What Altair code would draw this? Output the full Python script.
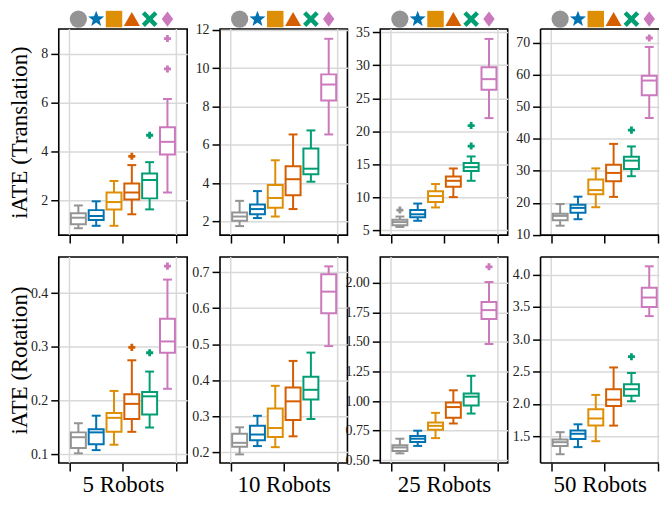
import math
import altair as alt
import pandas as pd

methods = ["M1", "M2", "M3", "M4", "M5", "M6"]
colors = ["#949494", "#0173B2", "#DE8F05", "#D55E00", "#029E73", "#CC78BC"]
robot_labels = ["5 Robots", "10 Robots", "25 Robots", "50 Robots"]
row_titles = ["iATE (Translation)", "iATE (Rotation)"]

# per method: (lower whisker, q1, median, q3, upper whisker)
trans_5 = [(0.86, 1.02, 1.29, 1.47, 1.79), (0.96, 1.20, 1.36, 1.60, 1.96), (0.96, 1.63, 1.93, 2.32, 2.79),
           (1.43, 2.03, 2.32, 2.69, 3.44), (1.63, 2.08, 2.83, 3.10, 3.56), (2.32, 3.87, 4.39, 4.99, 6.14)]
trans_10 = [(1.75, 2.03, 2.25, 2.46, 3.07), (2.17, 2.37, 2.64, 2.88, 3.58), (2.25, 2.71, 3.22, 3.90, 5.19),
            (2.64, 3.36, 4.20, 4.88, 6.54), (4.07, 4.46, 4.75, 5.81, 6.75), (6.54, 8.31, 9.15, 9.68, 11.54)]
trans_25 = [(5.49, 5.74, 6.23, 6.58, 7.07), (6.43, 6.97, 7.41, 8.05, 9.04), (8.45, 9.29, 10.17, 10.91, 12.0),
            (10.02, 11.6, 12.49, 13.13, 14.36), (12.49, 13.97, 14.56, 15.2, 16.18), (22.0, 26.28, 27.9, 29.7, 34.0)]
trans_50 = [(12.83, 14.55, 15.9, 16.6, 19.6), (14.86, 16.9, 18.4, 19.4, 21.9), (18.6, 22.65, 23.96, 27.3, 30.74),
            (21.84, 26.7, 29.33, 31.86, 38.4), (28.3, 30.54, 33.17, 34.4, 37.6), (46.5, 53.6, 58.2, 59.7, 68.7)]
rot_5 = [(0.102, 0.112, 0.132, 0.141, 0.158), (0.108, 0.119, 0.141, 0.147, 0.172), (0.118, 0.142, 0.168, 0.177, 0.218),
         (0.142, 0.166, 0.194, 0.212, 0.275), (0.150, 0.174, 0.208, 0.216, 0.254), (0.222, 0.289, 0.310, 0.352, 0.425)]
rot_10 = [(0.195, 0.216, 0.227, 0.252, 0.270), (0.218, 0.234, 0.250, 0.274, 0.302), (0.215, 0.243, 0.268, 0.322, 0.385),
          (0.245, 0.290, 0.342, 0.380, 0.454), (0.293, 0.347, 0.374, 0.410, 0.477), (0.495, 0.586, 0.646, 0.694, 0.716)]
rot_25 = [(0.557, 0.577, 0.607, 0.626, 0.681), (0.620, 0.653, 0.681, 0.703, 0.749), (0.686, 0.757, 0.790, 0.818, 0.900),
          (0.810, 0.859, 0.949, 0.987, 1.091), (0.894, 0.963, 1.037, 1.064, 1.214), (1.483, 1.694, 1.770, 1.839, 2.008)]
rot_50 = [(1.224, 1.35, 1.41, 1.45, 1.565), (1.334, 1.46, 1.54, 1.59, 1.686), (1.425, 1.666, 1.776, 1.917, 2.14),
          (1.666, 1.967, 2.067, 2.228, 2.564), (2.042, 2.127, 2.228, 2.303, 2.479), (3.357, 3.498, 3.644, 3.794, 4.126)]

# outliers: (method index, value)
trans_5_out = [(3, 3.80), (4, 4.66), (5, 7.37), (5, 8.61)]
trans_10_out = []
trans_25_out = [(0, 8.05), (4, 17.76), (4, 20.86)]
trans_50_out = [(4, 42.7), (5, 71.5)]
rot_5_out = [(3, 0.299), (4, 0.289), (5, 0.45)]
rot_10_out = []
rot_25_out = [(5, 2.137)]
rot_50_out = [(4, 2.73)]

stats = [[trans_5, trans_10, trans_25, trans_50], [rot_5, rot_10, rot_25, rot_50]]
outs = [[trans_5_out, trans_10_out, trans_25_out, trans_50_out], [rot_5_out, rot_10_out, rot_25_out, rot_50_out]]

y_domains = [[[0.58, 9.0], [1.28, 12.05], [4.26, 35.5], [9.9, 74.3]],
             [[0.084, 0.467], [0.171, 0.742], [0.475, 2.22], [1.088, 4.27]]]
y_ticks = [[[2, 4, 6, 8], [2, 4, 6, 8, 10, 12], [5, 10, 15, 20, 25, 30, 35], [10, 20, 30, 40, 50, 60, 70]],
           [[0.1, 0.2, 0.3, 0.4], [0.2, 0.3, 0.4, 0.5, 0.6, 0.7], [0.5, 0.75, 1.0, 1.25, 1.5, 1.75, 2.0],
            [1.5, 2.0, 2.5, 3.0, 3.5, 4.0]]]
y_formats = [["d", "d", "d", "d"], [".1f", ".1f", ".2f", ".1f"]]

# marker shapes
star_pts = []
for k in range(10):
    r = 1.0 if k % 2 == 0 else 0.42
    th = k * math.pi / 5
    star_pts.append(f"{r * math.sin(th):.3f},{-r * math.cos(th):.3f}")
star_path = "M" + "L".join(star_pts) + "Z"
x_path = "M-1,-0.6L-0.6,-1L0,-0.4L0.6,-1L1,-0.6L0.4,0L1,0.6L0.6,1L0,0.4L-0.6,1L-1,0.6L-0.4,0Z"
diamond_path = "M0,-1L0.75,0L0,1L-0.75,0Z"
shapes = ["circle", star_path, "square", "triangle-up", x_path, diamond_path]
shape_sizes = [300, 235, 260, 310, 270, 361]

FONT = "Liberation Serif"
PXU = 17.9                      # pixels per x unit
WIDTHS = [129, 128, 128, 119]   # last panel is cut at the right edge as in the reference
H = 207


def panel(row, col):
    W = WIDTHS[col]
    st = stats[row][col]
    df = pd.DataFrame(st, columns=["lo", "q1", "med", "q3", "hi"])
    df["method"] = methods
    df["pos"] = list(range(1, 7))
    od = pd.DataFrame({"pos": [o[0] + 1 for o in outs[row][col]],
                       "val": [o[1] for o in outs[row][col]],
                       "method": [methods[o[0]] for o in outs[row][col]]})

    xs = alt.Scale(domain=[-0.1, -0.1 + W / PXU], nice=False, zero=False)
    ys = alt.Scale(domain=y_domains[row][col], nice=False, zero=False)
    xkw = dict(values=[0.5, 3.5, 6.5], labels=False, grid=False, domain=False,
               tickSize=8, tickWidth=1.5, tickColor="black")
    if row == 1:
        xkw.update(title=robot_labels[col], titleFont=FONT, titleFontSize=23,
                   titleFontWeight="normal", titleColor="black", titlePadding=2)
    else:
        xkw.update(title=None)
    xaxis = alt.Axis(**xkw)
    ykw = dict(values=y_ticks[row][col], format=y_formats[row][col], grid=True,
               gridColor="#d9d9d9", gridWidth=1.5, domain=False, tickSize=8,
               tickWidth=1.5, tickColor="black", labelFont=FONT, labelFontSize=14,
               labelColor="#222222", labelPadding=3)
    if col == 0:
        ykw.update(title=row_titles[row], titleFont=FONT, titleFontSize=23,
                   titleFontWeight="normal", titleColor="black", titleAngle=270,
                   titleBaseline="bottom", titleX=-27, titleY=H / 2)
    else:
        ykw.update(title=None)
    yaxis = alt.Axis(**ykw)
    color = alt.Color("method:N", scale=alt.Scale(domain=methods, range=colors), legend=None)
    stroke = alt.Stroke("method:N", scale=alt.Scale(domain=methods, range=colors), legend=None)

    def X(f):
        return alt.X(f"{f}:Q", scale=xs, axis=xaxis)

    def Y(f):
        return alt.Y(f"{f}:Q", scale=ys, axis=yaxis)

    vgrid = alt.Chart(pd.DataFrame({"g": [0.5, 6.5]})).mark_rule(
        color="#d9d9d9", strokeWidth=1.5).encode(x=X("g"))
    base = alt.Chart(df).transform_calculate(
        bl="datum.pos - 0.42", br="datum.pos + 0.42",
        cl="datum.pos - 0.25", cr="datum.pos + 0.25")
    box = base.mark_rect(fill="white", strokeWidth=2).encode(
        x=X("bl"), x2="br:Q", y=Y("q1"), y2="q3:Q", stroke=stroke)
    wl = base.mark_rule(strokeWidth=2).encode(x=X("pos"), y=Y("lo"), y2="q1:Q", color=color)
    wh = base.mark_rule(strokeWidth=2).encode(x=X("pos"), y=Y("q3"), y2="hi:Q", color=color)
    cl = base.mark_rule(strokeWidth=2).encode(x=X("cl"), x2="cr:Q", y=Y("lo"), color=color)
    ch = base.mark_rule(strokeWidth=2).encode(x=X("cl"), x2="cr:Q", y=Y("hi"), color=color)
    md = base.mark_rule(strokeWidth=2).encode(x=X("bl"), x2="br:Q", y=Y("med"), color=color)
    layers = [vgrid, box, wl, wh, cl, ch, md]
    if len(od):
        ol = alt.Chart(od).mark_point(shape="cross", filled=True, opacity=1, size=50).encode(
            x=X("pos"), y=Y("val"), color=color)
        layers.append(ol)
    if row == 0:
        mk = alt.Chart(df).mark_point(filled=True, opacity=1).encode(
            x=X("pos"), y=alt.value(-10),
            shape=alt.Shape("method:N", scale=alt.Scale(domain=methods, range=shapes), legend=None),
            size=alt.Size("method:N", scale=alt.Scale(domain=methods, range=shape_sizes), legend=None),
            color=color)
        layers.append(mk)
    if col == 3:
        # frame drawn on three sides only: the right side is cut off by the picture edge
        e = pd.DataFrame({"e": [0]})
        fl = alt.Chart(e).mark_rule(color="black", strokeWidth=1.6).encode(
            x=alt.value(0), y=alt.value(0), y2=alt.value(H))
        ft = alt.Chart(e).mark_rule(color="black", strokeWidth=1.6).encode(
            x=alt.value(0), x2=alt.value(W), y=alt.value(0))
        fb = alt.Chart(e).mark_rule(color="black", strokeWidth=1.6).encode(
            x=alt.value(0), x2=alt.value(W), y=alt.value(H))
        layers += [fl, ft, fb]
        return alt.layer(*layers, view=alt.ViewBackground(stroke="transparent")).properties(
            width=W, height=H)
    return alt.layer(*layers).properties(width=W, height=H)


panels = [panel(r, c) for r in range(2) for c in range(4)]
chart = alt.concat(*panels, columns=4, spacing=alt.RowColnumber(row=22, column=33),
                   bounds="flush").properties(padding=0).configure_view(
    stroke="black", strokeWidth=1.6)

chart.save("out.html", embed_options={"renderer": "svg", "actions": False})
